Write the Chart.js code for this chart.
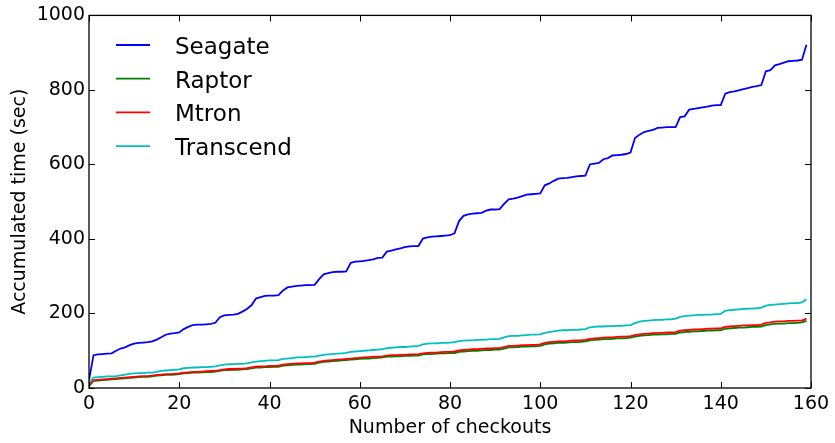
<!DOCTYPE html>
<html>
<head>
<meta charset="utf-8">
<script src="https://cdn.jsdelivr.net/npm/chart.js@4/dist/chart.umd.min.js"></script>
<style>
html,body{margin:0;padding:0;background:#fff;}
#wrap{width:835px;height:443px;}
</style>
</head>
<body>
<div id="wrap"><canvas id="c" width="835" height="443"></canvas></div>
<script>
// ---- data ----
const checkouts = Array.from({length: 160}, (_, i) => i);
const seriesNames = ["Seagate", "Raptor", "Mtron", "Transcend"];
const seriesColors = ["#0000ff", "#008000", "#ff0000", "#00bfbf"];
const xTicks = [0, 20, 40, 60, 80, 100, 120, 140, 160];
const yTicks = [0, 200, 400, 600, 800, 1000];

const seagate = [21,88,90,91,92,93,100,106,109,115,119,121,122,123,125,130,136,143,146,147,
149,158,164,169,170,170,171,172,175,190,195,196,197,199,205,212,222,240,244,247,
248,248,249,262,270,272,274,275,276,276,277,292,305,308,311,312,312,313,336,339,
340,341,343,345,349,350,366,369,372,375,378,380,381,381,401,404,406,407,408,409,
410,415,448,462,466,468,469,470,476,479,479,480,494,506,508,511,515,519,520,521,
522,544,549,556,562,563,564,566,568,569,570,600,602,604,614,617,624,625,626,628,
632,671,680,687,690,693,698,699,700,700,700,727,729,747,749,751,753,755,758,759,
759,790,794,796,799,802,805,808,810,813,850,853,866,869,873,877,878,879,881,921];

const raptor = [5,19,20,21,22,23,24,25,26,27,28,29,30,30,31,33,34,35,35,36,
37,39,40,41,41,42,43,43,44,46,48,48,49,49,50,51,53,55,55,56,
56,57,57,60,61,62,63,63,64,64,65,68,70,71,72,73,74,75,76,77,
78,79,79,80,81,82,84,84,85,85,86,86,87,87,90,91,91,92,93,93,
94,94,97,98,99,100,100,101,102,102,103,103,106,109,109,110,111,111,112,112,
113,117,119,120,121,121,122,123,123,124,125,128,129,130,131,131,132,133,133,134,
135,138,140,141,142,143,143,144,144,145,145,149,150,151,152,152,153,154,154,155,
155,159,160,161,162,162,163,164,164,165,169,171,172,173,173,174,174,175,176,180];

const mtron = [8,21,22,23,24,25,26,27,28,29,30,31,32,32,33,35,36,37,37,38,
39,41,42,43,43,44,45,46,46,48,50,51,51,52,52,53,55,57,58,58,
59,59,60,63,64,65,66,66,67,67,68,71,73,74,75,76,77,78,79,80,
81,82,83,84,84,85,87,88,88,89,89,90,90,91,93,94,95,95,96,97,
97,98,101,102,103,104,104,105,106,106,107,107,110,113,113,114,115,115,116,116,
117,121,123,124,125,125,126,127,128,128,129,132,133,134,135,136,136,137,138,138,
139,142,144,145,146,147,148,148,149,149,150,154,155,156,157,157,158,159,159,160,
160,164,165,166,167,168,168,169,169,170,175,176,178,179,179,180,180,181,181,186];

const transcend = [12,28,29,30,31,31,32,34,36,38,39,40,40,41,41,43,46,47,48,49,
50,53,54,55,55,56,56,57,58,61,63,64,64,65,65,66,69,71,72,73,
74,74,75,78,79,80,82,82,83,84,84,87,89,90,91,92,93,94,97,98,
99,100,101,102,103,104,107,108,109,110,110,111,112,113,117,119,120,120,121,121,
122,123,126,127,128,128,129,129,130,131,131,132,136,139,140,140,141,142,143,143,
144,148,150,152,154,155,155,156,156,157,158,163,164,165,165,166,166,167,167,168,
169,174,178,180,181,182,183,183,184,184,186,191,193,194,195,196,196,197,197,198,
199,207,209,210,211,212,213,213,214,216,221,223,224,225,226,227,228,228,230,238];

const seriesValues = [seagate, raptor, mtron, transcend];

// ---- layout / style ----
const FONT = "'DejaVu Sans', sans-serif";
const PLOT = {left: 89, right: 811, top: 15, bottom: 388};

const framePlugin = {
  id: 'frame',
  afterDatasetsDraw(chart) {
    const {ctx, chartArea: a, scales} = chart;
    ctx.save();
    ctx.strokeStyle = '#000';
    ctx.lineWidth = 1.3;
    ctx.strokeRect(a.left, a.top, a.right - a.left, a.bottom - a.top);
    const L = 6;
    ctx.lineWidth = 1;
    ctx.beginPath();
    xTicks.forEach(v => {
      const px = Math.round(scales.x.getPixelForValue(v)) + 0.5;
      ctx.moveTo(px, a.bottom); ctx.lineTo(px, a.bottom - L);
      ctx.moveTo(px, a.top); ctx.lineTo(px, a.top + L);
    });
    yTicks.forEach(v => {
      const py = Math.round(scales.y.getPixelForValue(v)) + 0.5;
      ctx.moveTo(a.left, py); ctx.lineTo(a.left + L, py);
      ctx.moveTo(a.right, py); ctx.lineTo(a.right - L, py);
    });
    ctx.stroke();
    ctx.restore();
  }
};

const legendPlugin = {
  id: 'innerLegend',
  afterDraw(chart) {
    const {ctx} = chart;
    ctx.save();
    chart.data.datasets.forEach((ds, i) => {
      const y = 45 + i * 33.7;
      ctx.strokeStyle = ds.borderColor;
      ctx.lineWidth = 1.8;
      ctx.beginPath();
      ctx.moveTo(116, y); ctx.lineTo(150, y);
      ctx.stroke();
      ctx.fillStyle = '#000';
      ctx.font = "23px " + FONT;
      ctx.textBaseline = 'alphabetic';
      ctx.textAlign = 'left';
      ctx.fillText(ds.label, 175, y + 8.8);
    });
    ctx.restore();
  }
};

const datasets = seriesNames.map((name, i) => ({
  label: name,
  data: seriesValues[i],
  borderColor: seriesColors[i],
  backgroundColor: seriesColors[i],
  borderWidth: 1.8,
  pointRadius: 0,
  tension: 0,
  fill: false,
  order: seriesNames.length - 1 - i
}));

new Chart(document.getElementById('c'), {
  type: 'line',
  data: {labels: checkouts, datasets},
  options: {
    responsive: false,
    animation: false,
    layout: {padding: {top: PLOT.top, right: 835 - PLOT.right, left: 0, bottom: 0}},
    plugins: {legend: {display: false}, tooltip: {enabled: false}},
    scales: {
      x: {
        type: 'linear', min: 0, max: 160,
        afterBuildTicks(s) { s.ticks = xTicks.map(v => ({value: v})); },
        afterFit(s) { s.height = 443 - PLOT.bottom; },
        grid: {display: false, drawTicks: false},
        border: {display: false},
        ticks: {color: '#000', padding: 5, font: {family: FONT, size: 19}, maxRotation: 0, autoSkip: false,
                callback: v => String(v)},
        title: {display: true, text: 'Number of checkouts', color: '#000', font: {family: FONT, size: 19}, padding: {top: 0, bottom: 4}}
      },
      y: {
        type: 'linear', min: 0, max: 1000,
        afterBuildTicks(s) { s.ticks = yTicks.map(v => ({value: v})); },
        afterFit(s) { s.width = PLOT.left; },
        grid: {display: false, drawTicks: false},
        border: {display: false},
        ticks: {color: '#000', padding: 4, font: {family: FONT, size: 19}, autoSkip: false,
                callback: v => String(v)},
        title: {display: true, text: 'Accumulated time (sec)', color: '#000', font: {family: FONT, size: 19}, padding: {top: 9, bottom: 0}}
      }
    }
  },
  plugins: [framePlugin, legendPlugin]
});
</script>
</body>
</html>
